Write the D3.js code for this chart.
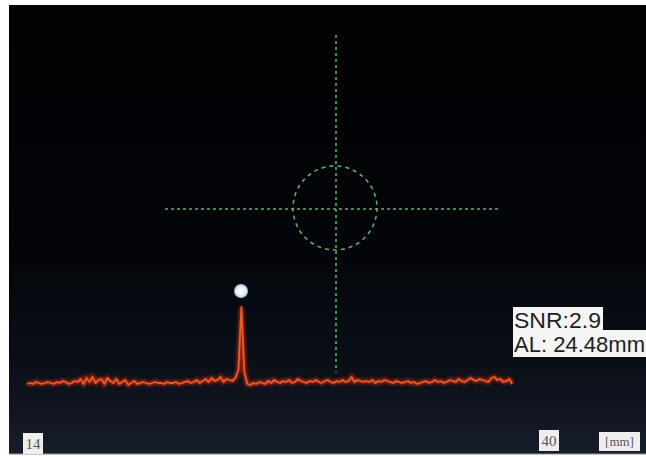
<!DOCTYPE html>
<html lang="en">
<head>
    <meta charset="UTF-8">
    <title>A-scan</title>
    <script src="https://d3js.org/d3.v7.min.js" charset="utf-8"></script>
    <style>
        body { margin: 0; background: #ffffff; }
        svg { display: block; }
    </style>
</head>
<body>
    <script>
        // axial length axis (mm) and scan trace
        var axisTicks = [14, 40];
        var axisUnit = "[mm]";
        var traceStart = 13.7;   // mm of first sample
        var traceStep = 0.15;    // mm between samples
        var traceValues = [
            8, 9, 8, 10, 9, 8, 9, 10, 9, 8, 10, 9, 11, 10, 8, 9, 11, 10,
            13, 8, 14, 10, 15, 9, 12, 13, 8, 14, 11, 9, 13, 8, 10, 12, 7, 9, 11, 8,
            9, 10, 9, 8, 9, 10, 9, 9, 8, 10, 9, 9, 10, 8, 9, 10, 11, 9,
            10, 12, 9, 11, 13, 10, 14, 11, 12, 15, 10, 13, 12, 11, 14, 22,
            85, 20,
            8, 7, 9, 8, 10, 9, 8, 11, 9, 12, 10, 9, 11, 10, 12, 9, 10, 13, 11, 10,
            9, 11, 10, 12, 10, 9, 11, 12, 10, 9,
            11, 10, 12, 10, 11, 15, 10, 12, 11, 10,
            11, 10, 12, 9, 11, 10, 12, 11, 10, 9, 11, 10, 9, 10, 11, 9, 10, 8, 9, 10,
            11, 9, 10, 12, 10, 11, 9, 10, 12, 11, 10, 13, 11, 10, 12, 14, 12, 11, 13, 12,
            11, 10, 14, 15, 12, 13, 10, 11, 13, 8
        ];
        var peakMm = 24.48;
        var peakValue = 85;
        var readout = ["SNR:2.9", "AL: 24.48mm"];

        var width = 646;
        var height = 457;

        var svg = d3.select("body")
                    .append("svg")
                    .attr("width", width)
                    .attr("height", height);

        var defs = svg.append("defs");

        var bg = defs.append("linearGradient")
                .attr("id", "bg")
                .attr("x1", 0).attr("y1", 0).attr("x2", 0).attr("y2", 1);
        bg.append("stop").attr("offset", "0%").attr("stop-color", "#010203");
        bg.append("stop").attr("offset", "55%").attr("stop-color", "#03050a");
        bg.append("stop").attr("offset", "82%").attr("stop-color", "#0b1019");
        bg.append("stop").attr("offset", "100%").attr("stop-color", "#171d2a");

        var dot = defs.append("radialGradient").attr("id", "dot");
        dot.append("stop").attr("offset", "0%").attr("stop-color", "#ffffff");
        dot.append("stop").attr("offset", "60%").attr("stop-color", "#e8f2fb");
        dot.append("stop").attr("offset", "100%").attr("stop-color", "#9fc2e0");

        var glow = defs.append("filter").attr("id", "glow")
                .attr("x", "-10%").attr("y", "-50%").attr("width", "120%").attr("height", "200%");
        glow.append("feGaussianBlur").attr("stdDeviation", 1.6);

        // screen area
        svg.append("rect")
            .attr("x", 9).attr("y", 5)
            .attr("width", width - 9).attr("height", 449)
            .attr("fill", "url(#bg)");
        svg.append("line")
            .attr("x1", 9).attr("x2", width)
            .attr("y1", 454).attr("y2", 454)
            .attr("stroke", "#8a8f96").attr("stroke-width", 1);

        var x = d3.scaleLinear().domain([14, 40]).range([33, 549]);
        var y = d3.scaleLinear().domain([0, 100]).range([392, 292]);

        // crosshair
        var cross = svg.append("g")
                .attr("fill", "none")
                .attr("stroke", "#5cb86a")
                .attr("stroke-width", 1.5)
                .attr("stroke-dasharray", "3,3");
        cross.append("line").attr("x1", 336).attr("x2", 336).attr("y1", 35).attr("y2", 372);
        cross.append("line").attr("x1", 165).attr("x2", 500).attr("y1", 209).attr("y2", 209);
        cross.append("circle").attr("cx", 335).attr("cy", 208).attr("r", 42)
            .attr("stroke-dasharray", "4,4");

        // trace
        var traceData = traceValues.map(function (v, i) {
            return { mm: traceStart + i * traceStep, v: v };
        });
        var line = d3.line()
                .x(function (d) { return x(d.mm); })
                .y(function (d) { return y(d.v); });

        svg.append("path")
            .datum(traceData)
            .attr("d", line)
            .attr("fill", "none")
            .attr("stroke", "#c42a10")
            .attr("stroke-width", 4.5)
            .attr("opacity", 0.75)
            .attr("filter", "url(#glow)");
        svg.append("path")
            .datum(traceData)
            .attr("d", line)
            .attr("fill", "none")
            .attr("stroke", "#ec5a2a")
            .attr("stroke-width", 1.8)
            .attr("stroke-linejoin", "round");

        // peak marker
        svg.append("circle")
            .attr("cx", x(peakMm))
            .attr("cy", y(peakValue) - 16)
            .attr("r", 7)
            .attr("fill", "url(#dot)");

        // readout box
        var ro = svg.append("g").attr("font-family", "Liberation Sans, Arial, sans-serif")
                .attr("font-size", 22).attr("fill", "#222222");
        ro.append("rect").attr("x", 513).attr("y", 307).attr("width", 90).attr("height", 24).attr("fill", "#f5f5f5");
        ro.append("rect").attr("x", 513).attr("y", 330).attr("width", 133).attr("height", 27).attr("fill", "#f5f5f5");
        ro.selectAll("text")
            .data(readout)
            .enter()
            .append("text")
            .attr("x", 514)
            .attr("y", function (d, i) { return 328 + i * 24; })
            .attr("textLength", function (d, i) { return i === 0 ? 87 : 131; })
            .attr("lengthAdjust", "spacingAndGlyphs")
            .text(function (d) { return d; });

        // axis labels
        var lab = svg.append("g").attr("font-family", "Liberation Serif, Times New Roman, serif")
                .attr("font-size", 15).attr("fill", "#555555").attr("text-anchor", "middle");
        var tick = lab.selectAll("g.tick")
                .data(axisTicks)
                .enter()
                .append("g")
                .attr("class", "tick")
                .attr("transform", function (d, i) { return "translate(" + x(d) + "," + (i === 0 ? 444 : 441) + ")"; });
        tick.append("rect").attr("x", -10).attr("y", -11).attr("width", 20).attr("height", 21).attr("fill", "#eeeeee");
        tick.append("text").attr("y", 5).text(function (d) { return d; });

        lab.append("rect").attr("x", 599).attr("y", 432).attr("width", 41).attr("height", 19).attr("fill", "#eeeeee");
        lab.append("text").attr("x", 619.5).attr("y", 446).attr("font-size", 13).text(axisUnit);
    </script>
</body>
</html>
